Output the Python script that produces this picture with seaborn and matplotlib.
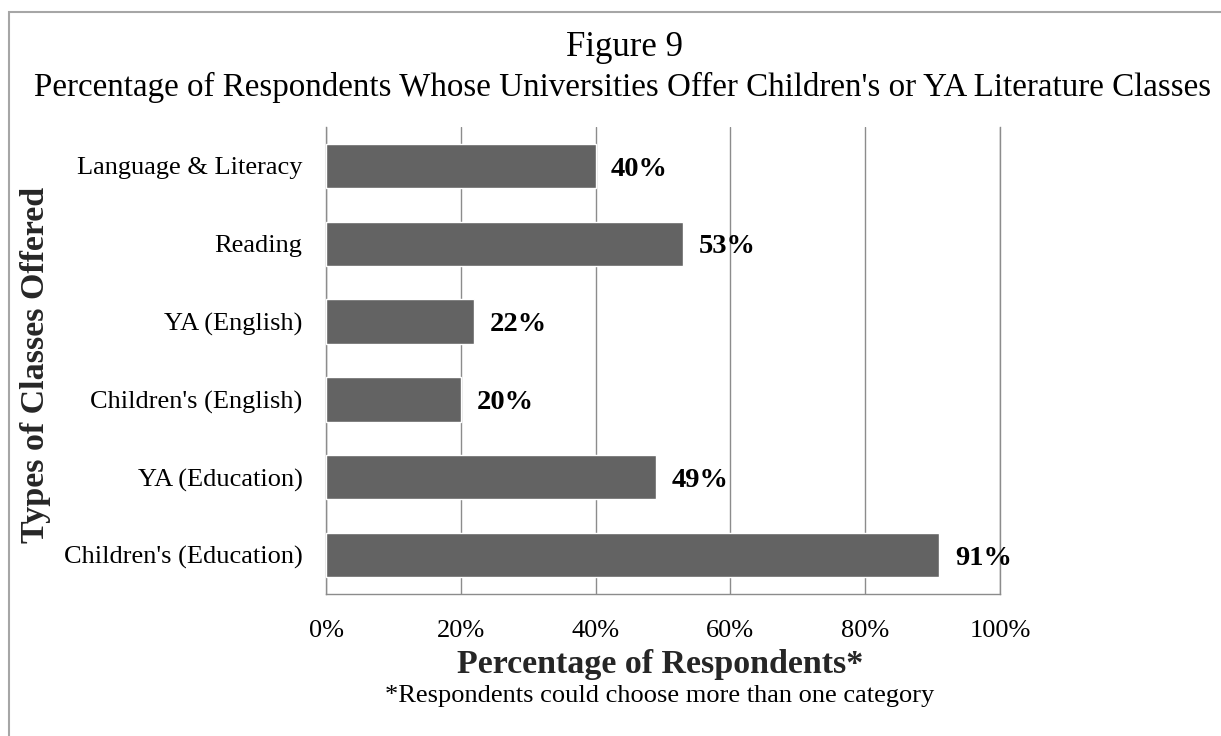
import pandas as pd
import numpy as np
import seaborn as sns
from matplotlib import pyplot as plt
from matplotlib.patches import Rectangle
from matplotlib.ticker import PercentFormatter

# data (top to bottom)
classes = ['Language & Literacy', 'Reading', 'YA (English)',
           "Children's (English)", 'YA (Education)', "Children's (Education)"]
percent = [40, 53, 22, 20, 49, 91]

df = pd.DataFrame({'class_type': classes, 'pct': percent})

sns.set_theme(style='white')
plt.rcParams['font.family'] = ['Liberation Serif', 'DejaVu Serif']
plt.rcParams['text.color'] = 'black'

fig = plt.figure(figsize=(12.21, 7.36), dpi=100)
ax = fig.add_axes([326/1221, 1 - 594/736, 674/1221, 467/736])

sns.barplot(data=df, x='pct', y='class_type', color='#636363', saturation=1,
            width=0.57, ax=ax, zorder=3)

ax.set_xlim(0, 100)
ax.set_xticks(np.arange(0, 101, 20))
ax.xaxis.set_major_formatter(PercentFormatter(decimals=0))
ax.grid(axis='x', color='#8c8c8c', linewidth=1, zorder=0)
ax.grid(axis='y', visible=False)
ax.spines['top'].set_visible(False)
for s in ['left', 'bottom', 'right']:
    ax.spines[s].set_color('#8c8c8c')
    ax.spines[s].set_linewidth(1)
ax.tick_params(axis='both', length=0, labelsize=19, colors='black')
ax.tick_params(axis='x', pad=19)
ax.tick_params(axis='y', pad=17)

# value labels
for i, v in enumerate(percent):
    ax.text(v + 2.3, i + 0.04, f'{v}%', va='center', ha='left',
            fontsize=20.5, fontweight='bold', color='black', zorder=4)

ax.set_xlabel('Percentage of Respondents*', fontsize=24.5, fontweight='bold',
              va='center')
ax.xaxis.set_label_coords((660 - 326) / 674, -(665 - 594) / 467)
ax.set_ylabel('Types of Classes Offered', fontsize=24.5, fontweight='bold',
              va='center')
ax.yaxis.set_label_coords((36 - 326) / 674, 0.49)

fig.text(624/1221, 1 - 47/736, 'Figure 9', ha='center', va='center', fontsize=25)
fig.text(623/1221, 1 - 87/736,
         "Percentage of Respondents Whose Universities Offer Children's or YA Literature Classes",
         ha='center', va='center', fontsize=23.8)
fig.text(660/1221, 1 - 696/736, '*Respondents could choose more than one category',
         ha='center', va='center', fontsize=19)

# outer frame (right and bottom edges fall outside the picture)
fig.patches.append(Rectangle((9/1221, -10/736), 1240/1221, 734/736,
                             transform=fig.transFigure, fill=False,
                             edgecolor='#a6a6a6', linewidth=1.5))

fig.savefig('out.png', dpi=100)
plt.close()
